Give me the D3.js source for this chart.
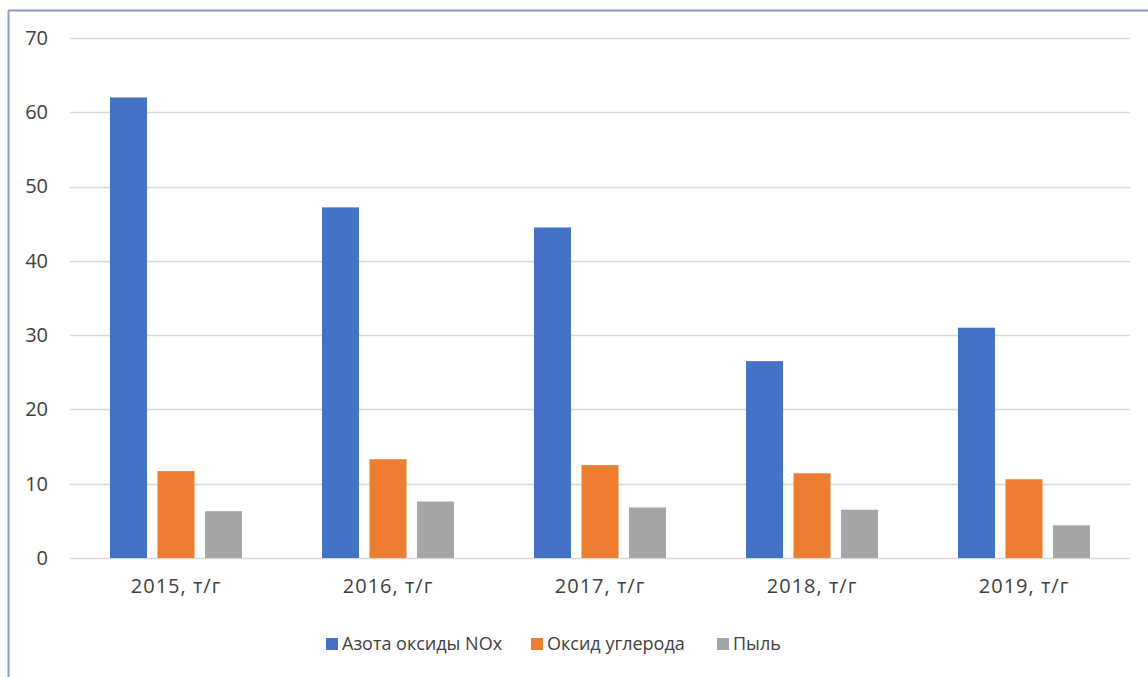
<!DOCTYPE html>
<html>
<head>
<meta charset="utf-8">
<script src="https://cdn.jsdelivr.net/npm/d3@7"></script>
<style>
html,body{margin:0;padding:0;background:#fff;}
svg{display:block;}
</style>
</head>
<body>
<svg id="chart" width="1148" height="677"></svg>
<script>
const categories = ["2015, т/г", "2016, т/г", "2017, т/г", "2018, т/г", "2019, т/г"];
const seriesNames = ["Азота оксиды NOx", "Оксид углерода", "Пыль"];
const nox = [62.0, 47.2, 44.5, 26.5, 31.0];
const co = [11.7, 13.3, 12.5, 11.4, 10.6];
const dust = [6.3, 7.6, 6.8, 6.5, 4.4];
const colors = ["#4472C4", "#ED7D31", "#A5A5A5"];
const yTicks = [0, 10, 20, 30, 40, 50, 60, 70];

const series = [nox, co, dust];
const svg = d3.select("#chart");
const font = "'Open Sans', 'Noto Sans', sans-serif";

// frame (cut off at right/bottom)
svg.append("line").attr("x1", 8.5).attr("x2", 8.5).attr("y1", 10.5).attr("y2", 677)
  .attr("stroke", "#8a9bcc").attr("stroke-width", 2);
svg.append("line").attr("x1", 8).attr("x2", 1148).attr("y1", 10.5).attr("y2", 10.5)
  .attr("stroke", "#8a9bcc").attr("stroke-width", 2);

const x = d3.scaleBand().domain(categories).range([70, 1130]);
const y = d3.scaleLinear().domain([0, 70]).range([558, 38]);
const groupWidth = 132;
const xs = d3.scaleBand().domain(d3.range(3)).range([0, groupWidth]).paddingInner(0.22);

// gridlines
svg.append("g").selectAll("line").data(yTicks).join("line")
  .attr("x1", 70).attr("x2", 1130)
  .attr("y1", d => Math.round(y(d)) + 0.5).attr("y2", d => Math.round(y(d)) + 0.5)
  .attr("stroke", "#d9d9d9").attr("stroke-width", 1.5);

// y labels
const yAxis = d3.axisLeft(y).tickValues(yTicks).tickSize(0).tickPadding(0);
const gy = svg.append("g").attr("transform", "translate(48,0)").call(yAxis);
gy.select(".domain").remove();
gy.selectAll("text").attr("font-family", font).attr("font-size", 20).attr("fill", "#404040");

// bars
series.forEach((vals, si) => {
  svg.append("g").selectAll("rect").data(vals).join("rect")
    .attr("x", (d, i) => x(categories[i]) + (x.bandwidth() - groupWidth) / 2 + xs(si))
    .attr("width", xs.bandwidth())
    .attr("y", d => y(d))
    .attr("height", d => y(0) - y(d))
    .attr("fill", colors[si]);
});

// x labels
const xAxis = d3.axisBottom(x).tickSize(0).tickPadding(0);
const gx = svg.append("g").attr("transform", "translate(0,579)").call(xAxis);
gx.select(".domain").remove();
gx.selectAll("text").attr("font-family", font).attr("font-size", 20)
  .attr("letter-spacing", "1px").attr("fill", "#404040");

// legend
const legendX = [326, 531, 717];
const lg = svg.append("g");
seriesNames.forEach((name, i) => {
  lg.append("rect").attr("x", legendX[i]).attr("y", 638).attr("width", 12).attr("height", 12).attr("fill", colors[i]);
  lg.append("text").attr("x", legendX[i] + 16).attr("y", 650)
    .attr("font-family", font).attr("font-size", 18).attr("fill", "#404040").text(name);
});
</script>
</body>
</html>
